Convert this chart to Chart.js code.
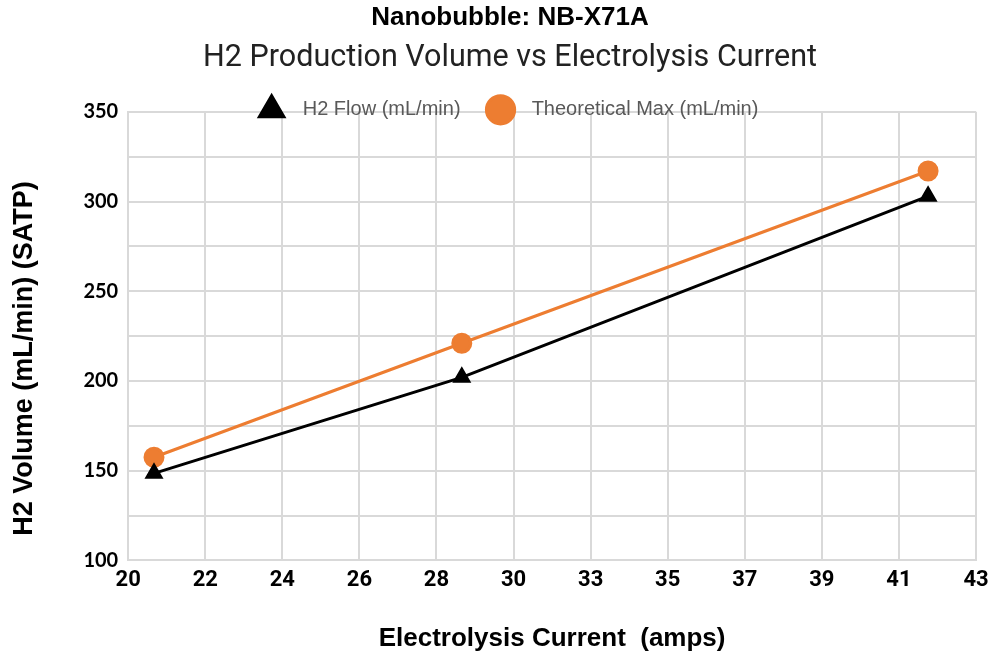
<!DOCTYPE html>
<html>
<head>
<meta charset="utf-8">
<script src="https://cdn.jsdelivr.net/npm/chart.js@4"></script>
<style>
  html, body { margin: 0; padding: 0; background: #fff; }
  #wrap { width: 992px; height: 655px; position: relative; }
</style>
</head>
<body>
<div id="wrap"><canvas id="h2Chart"></canvas></div>
<script>
// values
const currentAmps = [20.7, 29.05, 41.7];
const h2Flow = [148.5, 202, 303];
const theoreticalMax = [157.5, 221, 317];
const xTickLabels = ['20', '22', '24', '26', '28', '30', '33', '35', '37', '39', '41', '43'];
const xMin = 20, xMax = 43;

const ORANGE = '#ED7D31';
const GRID = '#d9d9d9';

// title / subtitle / legend sit a bit right of canvas centre in the original,
// and the legend hangs down onto the top grid line
const headerTweak = {
  id: 'headerTweak',
  beforeInit(chart) {
    const origFit = chart.legend.fit;
    chart.legend.fit = function () {
      origFit.bind(chart.legend)();
      this.height = 35;
    };
  },
  afterLayout(chart) {
    chart.boxes.forEach((box) => {
      if (!box.axis && box.isHorizontal && box.isHorizontal()) {
        box.left += 14;
        box.right += 14;
      }
    });
    const lg = chart.legend;
    lg.top -= 7;
    lg.height = 90; // legend clips to its own box
    lg.bottom = lg.top + lg.height;
  }
};

const ctx = document.getElementById('h2Chart').getContext('2d');
new Chart(ctx, {
  type: 'line',
  data: {
    datasets: [
      {
        label: 'H2 Flow (mL/min)',
        data: currentAmps.map((x, i) => ({ x: x, y: h2Flow[i] })),
        borderColor: '#000',
        backgroundColor: '#000',
        borderWidth: 3,
        pointStyle: 'triangle',
        pointRadius: 8,
        pointHoverRadius: 8,
        tension: 0
      },
      {
        label: 'Theoretical Max (mL/min)',
        data: currentAmps.map((x, i) => ({ x: x, y: theoreticalMax[i] })),
        borderColor: ORANGE,
        backgroundColor: ORANGE,
        borderWidth: 3,
        pointStyle: 'circle',
        pointRadius: 9,
        pointHoverRadius: 9,
        tension: 0
      }
    ]
  },
  options: {
    responsive: true,
    maintainAspectRatio: false,
    animation: false,
    layout: { padding: { left: 0, right: 0, top: 2, bottom: 1 } },
    plugins: {
      title: {
        display: true,
        text: 'Nanobubble: NB-X71A',
        color: '#000',
        font: { family: "'Liberation Sans', Arial", size: 26, weight: 'bold' },
        padding: { top: 0, bottom: 7 }
      },
      subtitle: {
        display: true,
        text: 'H2 Production Volume vs Electrolysis Current',
        color: '#222',
        font: { family: 'Roboto', size: 30.5, weight: 'normal' },
        padding: { top: 0, bottom: 0 }
      },
      legend: {
        position: 'top',
        labels: {
          usePointStyle: true,
          color: '#595959',
          font: { family: "'Liberation Sans', Arial", size: 20 },
          padding: 30,
          generateLabels: (chart) => {
            const items = Chart.defaults.plugins.legend.labels.generateLabels(chart);
            items.forEach((it) => { it.text = '  ' + it.text; });
            return items;
          }
        }
      },
      tooltip: { enabled: false }
    },
    scales: {
      x: {
        type: 'linear',
        min: xMin,
        max: xMax,
        afterBuildTicks: (scale) => {
          scale.ticks = xTickLabels.map((_, i) => ({
            value: xMin + i * (xMax - xMin) / (xTickLabels.length - 1)
          }));
        },
        afterFit: (scale) => {
          scale.paddingRight = 16;
        },
        ticks: {
          callback: (v, i) => xTickLabels[i],
          color: '#000',
          font: { family: 'Roboto', size: 22, weight: 'bold' },
          padding: 7,
          maxRotation: 0,
          autoSkip: false
        },
        grid: { color: GRID, lineWidth: 2, drawTicks: false },
        border: { color: GRID, width: 2 },
        title: {
          display: true,
          text: 'Electrolysis Current  (amps)',
          color: '#000',
          font: { family: "'Liberation Sans', Arial", size: 26, weight: 'bold' },
          padding: { top: 22, bottom: 0 }
        }
      },
      y: {
        min: 100,
        max: 350,
        ticks: {
          stepSize: 25,
          callback: (v) => (v % 50 === 0 ? v : ''),
          color: '#000',
          font: { family: 'Lato', size: 20, weight: 'bold' },
          padding: 10
        },
        grid: { color: GRID, lineWidth: 2, drawTicks: false },
        border: { color: GRID, width: 2 },
        title: {
          display: true,
          // trailing spaces push the rotated text a little lower, as in the original
          text: 'H2 Volume (mL/min) (SATP)      ',
          color: '#000',
          font: { family: "'Liberation Sans', Arial", size: 27, weight: 'bold' },
          padding: { top: 8, bottom: 33 }
        }
      }
    }
  },
  plugins: [headerTweak]
});
</script>
</body>
</html>
